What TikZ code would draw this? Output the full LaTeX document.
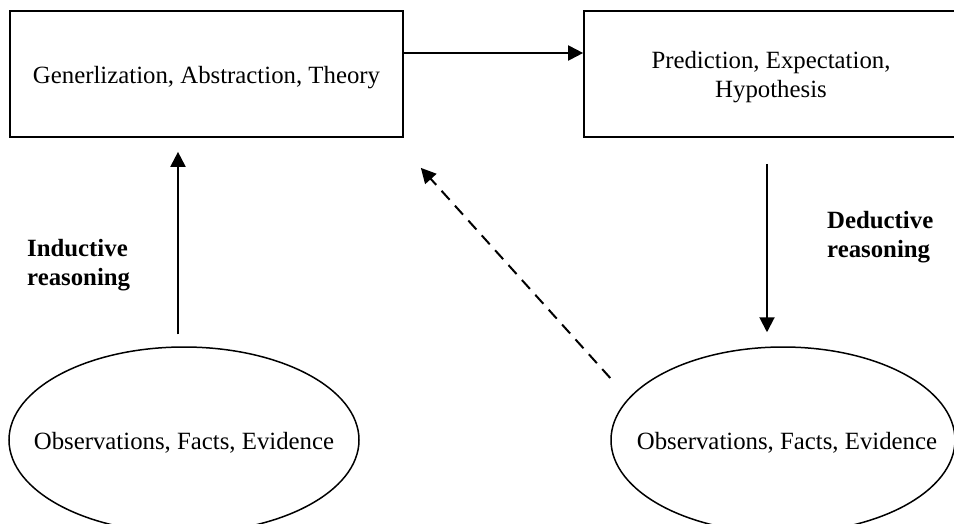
\documentclass[tikz,border=0pt]{standalone}
\usepackage{fontspec}
\setmainfont{Liberation Serif}
\usetikzlibrary{arrows.meta,shapes.geometric}
\tikzset{
  boxnode/.style={draw, line width=1.7pt, minimum height=126pt, inner sep=0pt},
  ovalnode/.style={draw, ellipse, line width=1.5pt, inner sep=0pt},
  txt/.style={align=center, inner sep=0pt},
  arr/.style={line width=2pt, -{Triangle[length=15pt,width=15pt]}},
  dasharr/.style={arr, dash pattern=on 12pt off 8pt},
  lbl/.style={anchor=west, align=left, font=\bfseries\fontsize{24.8}{29}\selectfont, inner sep=0pt}
}
\begin{document}
\begin{tikzpicture}[x=1pt,y=-1pt, every node/.append style={font=\fontsize{24.8}{29}\selectfont}]
\useasboundingbox (0,0) rectangle (954,523);
\clip (0,0) rectangle (954,523);
\fill[white] (0,0) rectangle (954,523);
\node[boxnode, minimum width=393pt] (gen) at (206.5,74) {};
\node[txt] (gent) at (206.5,77.5) {Generlization, Abstraction, Theory};
\node[boxnode, minimum width=374pt] (pred) at (771,74) {};
\node[txt] (predt) at (771,77) {Prediction, Expectation,\\Hypothesis};
\node[ovalnode, minimum width=350pt, minimum height=186pt] (obs1) at (184,440) {};
\node[txt] (obs1t) at (184,443) {Observations, Facts, Evidence};
\node[ovalnode, minimum width=344pt, minimum height=186pt] (obs2) at (783,440) {};
\node[txt] (obs2t) at (787,443) {Observations, Facts, Evidence};
\node[lbl] (ind) at (27,265) {Inductive\\reasoning};
\node[lbl] (ded) at (827,237) {Deductive\\reasoning};
\draw[arr] ([yshift=21pt]gen.east) -- ([yshift=21pt]pred.west);
\draw[arr] ([shift={(-6pt,12pt)}]obs1.north) -- ([shift={(-28.5pt,-14pt)}]gen.south);
\draw[arr] ([shift={(-4pt,-26pt)}]pred.south) -- ([shift={(-16pt,14pt)}]obs2.north);
\draw[dasharr] ([yshift=62pt]obs2.west) -- ([shift={(17pt,-30pt)}]gen.south east);
\end{tikzpicture}
\end{document}
